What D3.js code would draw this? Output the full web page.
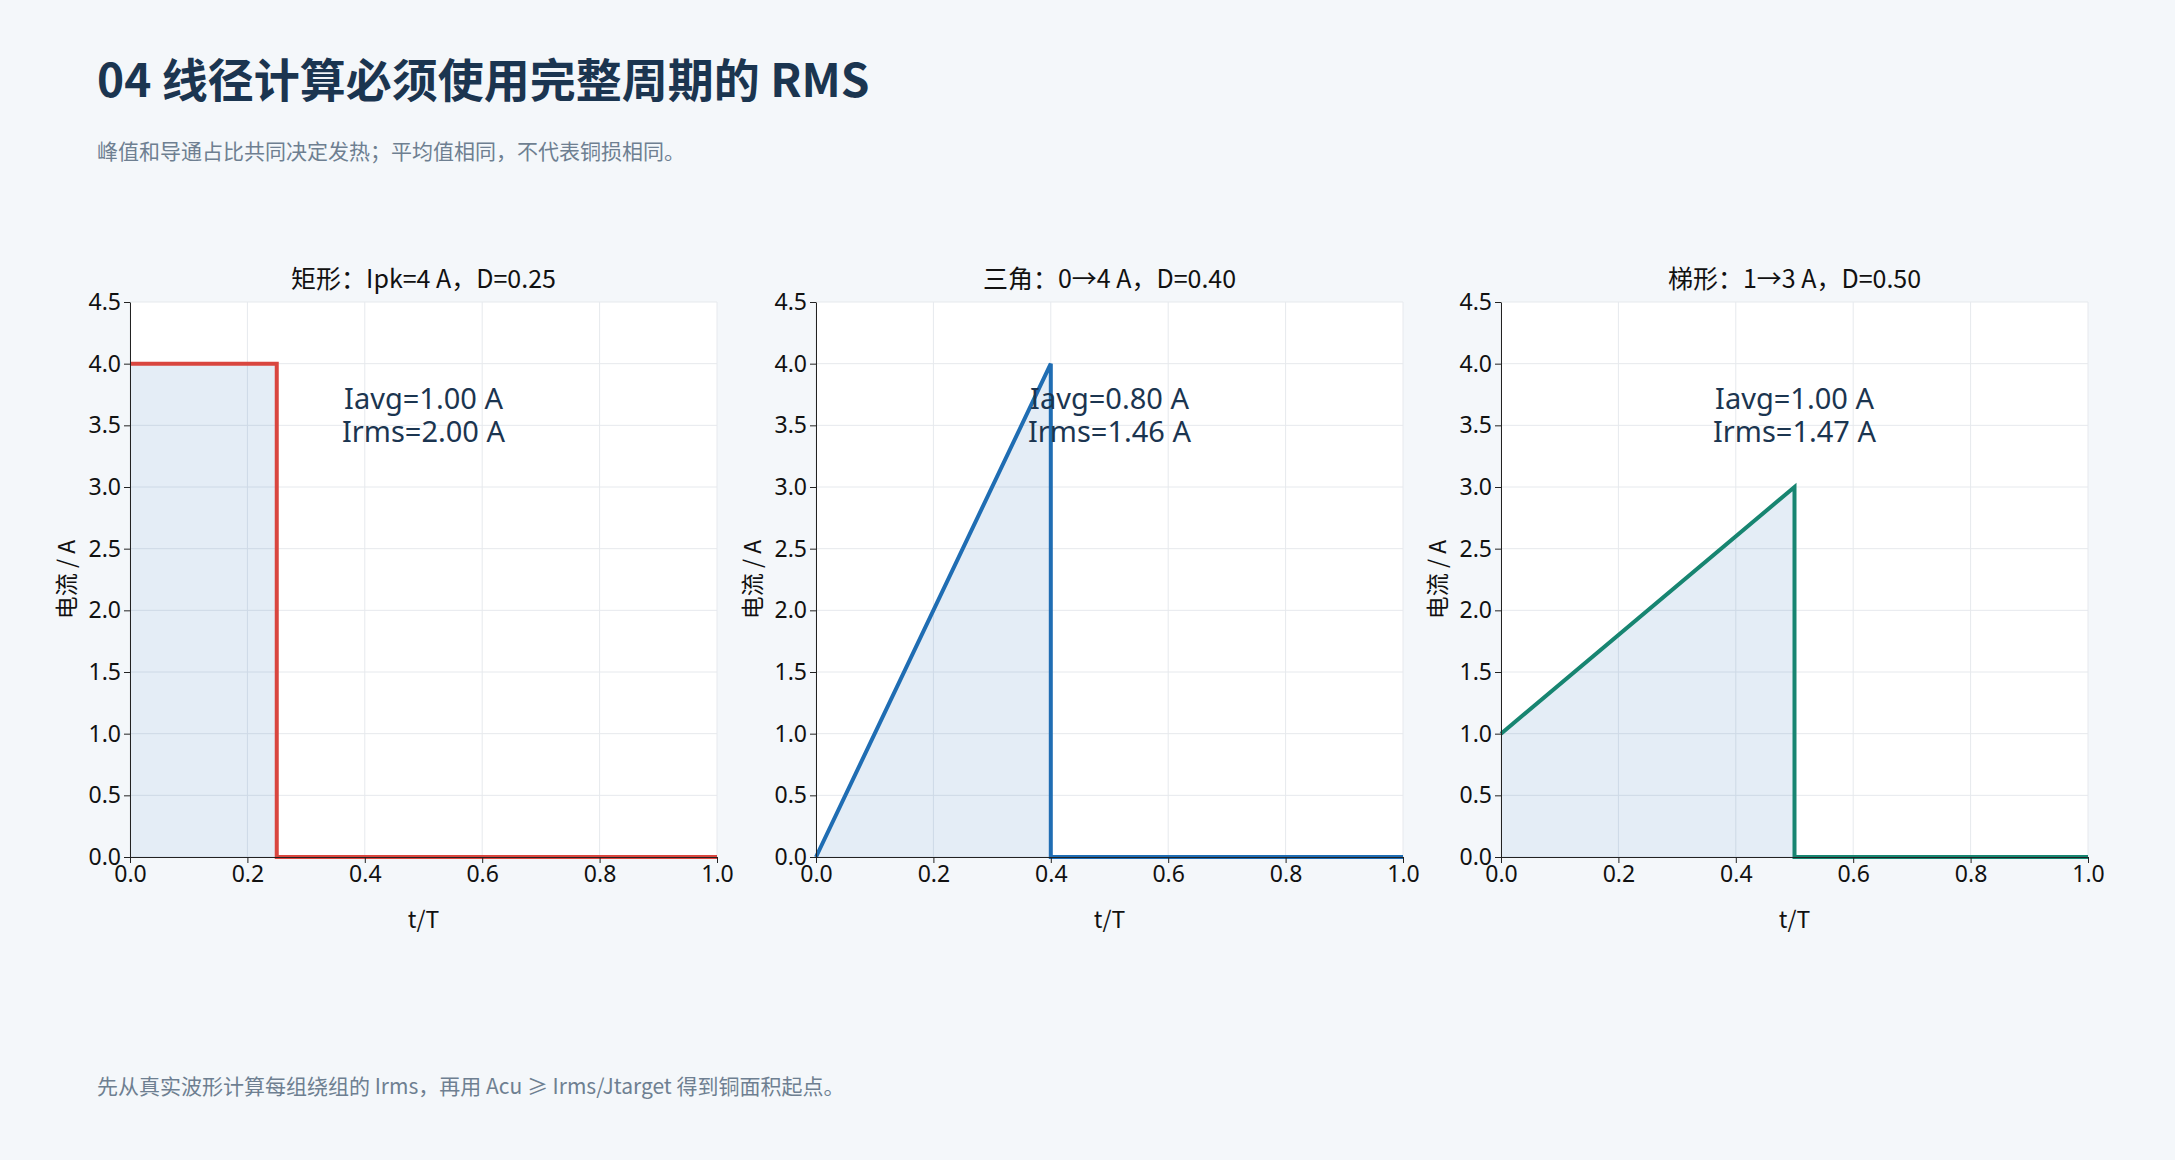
<!DOCTYPE html>
<html><head><meta charset="utf-8">
<script src="https://cdn.jsdelivr.net/npm/d3@7"></script>
<style>
body{margin:0;background:#f4f7fa;font-family:"Noto Sans CJK SC","Noto Sans",sans-serif;}
</style></head><body>
<svg id="c" width="2175" height="1160"></svg>
<script>
// chart data
var panelTitles = ["矩形：Ipk=4 A，D=0.25", "三角：0→4 A，D=0.40", "梯形：1→3 A，D=0.50"];
var rectT = [0, 0.25, 0.25, 1];
var rectI = [4, 4, 0, 0];
var triT = [0, 0.4, 0.4, 1];
var triI = [0, 4, 0, 0];
var trapT = [0, 0.5, 0.5, 1];
var trapI = [1, 3, 0, 0];
var avgLabels = ["Iavg=1.00 A", "Iavg=0.80 A", "Iavg=1.00 A"];
var rmsLabels = ["Irms=2.00 A", "Irms=1.46 A", "Irms=1.47 A"];
var lineColors = ["#d9463f", "#1f6db3", "#178571"];
var xTicks = [0, 0.2, 0.4, 0.6, 0.8, 1.0];
var yTicks = [0, 0.5, 1, 1.5, 2, 2.5, 3, 3.5, 4, 4.5];

var series = [[rectT, rectI], [triT, triI], [trapT, trapI]];
var svg = d3.select("#c");

svg.append("text").attr("x", 97).attr("y", 97)
  .attr("font-size", 46).attr("font-weight", 700).attr("fill", "#1b3550")
  .text("04  线径计算必须使用完整周期的 RMS");
svg.append("text").attr("x", 97).attr("y", 159)
  .attr("font-size", 21).attr("fill", "#6e7f91")
  .text("峰值和导通占比共同决定发热；平均值相同，不代表铜损相同。");
svg.append("text").attr("x", 97).attr("y", 1094)
  .attr("font-size", 21).attr("fill", "#6e7f91")
  .text("先从真实波形计算每组绕组的 Irms，再用 Acu ≥ Irms/Jtarget 得到铜面积起点。");

var lefts = [130, 816, 1501];
var w = 587, h = 555, topY = 302;

series.forEach(function(s, k) {
  var g = svg.append("g").attr("transform", `translate(${lefts[k]},${topY})`);
  var x = d3.scaleLinear().domain([0, 1]).range([0, w]);
  var y = d3.scaleLinear().domain([0, 4.5]).range([h, 0]);
  g.append("rect").attr("width", w).attr("height", h).attr("fill", "#fff");
  g.selectAll(".gx").data(xTicks).enter().append("line")
    .attr("x1", d => x(d)).attr("x2", d => x(d)).attr("y1", 0).attr("y2", h)
    .attr("stroke", "#e6e9ed").attr("stroke-width", 1);
  g.selectAll(".gy").data(yTicks).enter().append("line")
    .attr("y1", d => y(d)).attr("y2", d => y(d)).attr("x1", 0).attr("x2", w)
    .attr("stroke", "#e6e9ed").attr("stroke-width", 1);

  var pts = s[0].map((t, i) => [t, s[1][i]]);
  var area = d3.area().x(d => x(d[0])).y0(y(0)).y1(d => y(d[1]));
  g.append("path").datum(pts).attr("d", area).attr("fill", "#1f6db3").attr("opacity", 0.12);
  g.append("path").datum(pts).attr("d", d3.line().x(d => x(d[0])).y(d => y(d[1])))
    .attr("fill", "none").attr("stroke", lineColors[k]).attr("stroke-width", 4);

  var ax = g.append("g").attr("transform", `translate(0,${h})`)
    .call(d3.axisBottom(x).tickValues(xTicks).tickFormat(d3.format(".1f")).tickSizeOuter(0));
  var ay = g.append("g").call(d3.axisLeft(y).tickValues(yTicks).tickFormat(d3.format(".1f")).tickSizeOuter(0));
  [ax, ay].forEach(a => {
    a.selectAll("text").attr("font-size", 23).attr("fill", "#111").attr("font-family", "Noto Sans");
    a.select(".domain").attr("stroke", "#222");
    a.selectAll("line").attr("stroke", "#222");
  });

  g.append("text").attr("x", w / 2).attr("y", -14).attr("text-anchor", "middle")
    .attr("font-size", 25).attr("fill", "#111").text(panelTitles[k]);
  g.append("text").attr("x", w / 2).attr("y", h + 71).attr("text-anchor", "middle")
    .attr("font-size", 23).attr("fill", "#111").text("t/T");
  g.append("text").attr("transform", `translate(-55,${h / 2}) rotate(-90)`)
    .attr("text-anchor", "middle").attr("font-size", 23).attr("fill", "#111").text("电流 / A");
  g.append("text").attr("x", w / 2).attr("y", h * 0.175 + 10).attr("text-anchor", "middle")
    .attr("font-size", 29).attr("fill", "#1b3550").attr("font-family", "Noto Sans").text(avgLabels[k]);
  g.append("text").attr("x", w / 2).attr("y", h * 0.235 + 10).attr("text-anchor", "middle")
    .attr("font-size", 29).attr("fill", "#1b3550").attr("font-family", "Noto Sans").text(rmsLabels[k]);
});
</script>
</body></html>
